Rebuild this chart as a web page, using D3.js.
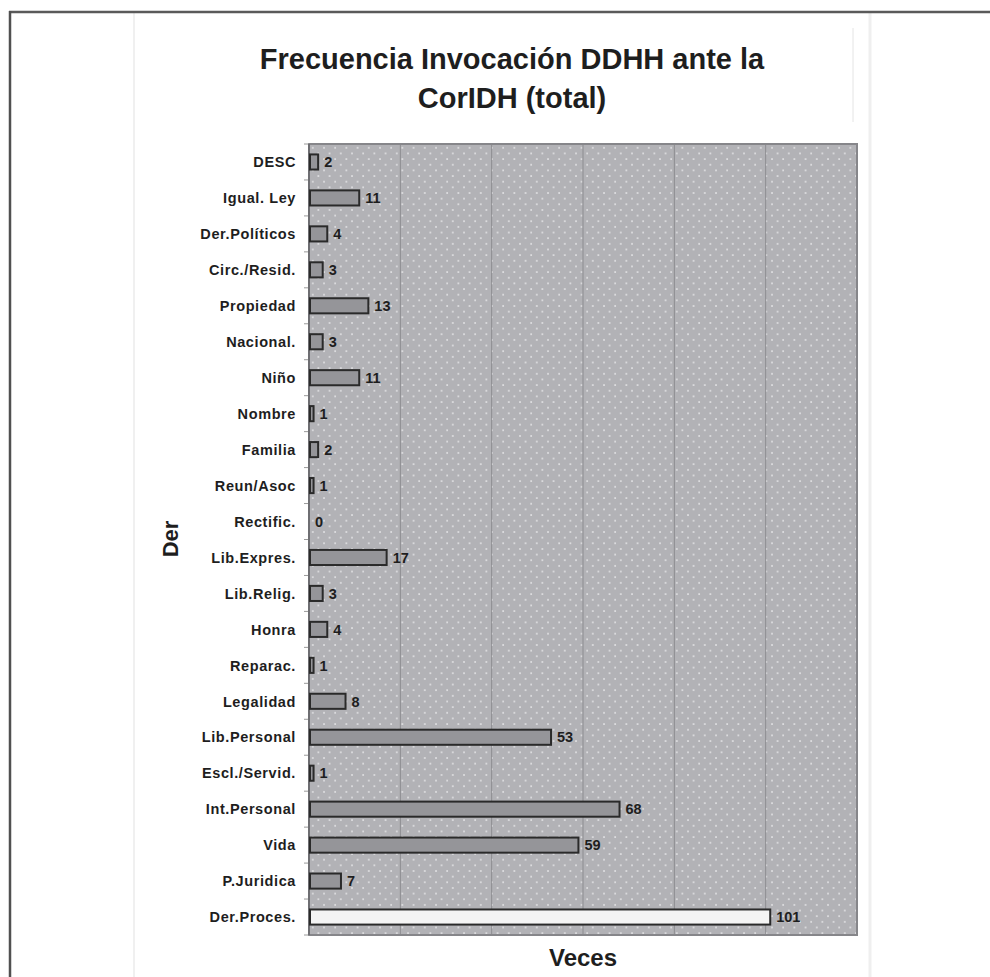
<!DOCTYPE html>
<html><head><meta charset="utf-8">
<script src="https://cdn.jsdelivr.net/npm/d3@7"></script>
<style>
html,body{margin:0;padding:0;background:#fff;}
svg{display:block;}
text{font-family:"Liberation Sans",Arial,Helvetica,sans-serif;font-weight:bold;}
</style></head>
<body>
<svg id="chart" width="990" height="977"></svg>
<script>
const titleLines = ["Frecuencia Invocación DDHH ante la", "CorIDH (total)"];
const categories = ["DESC","Igual. Ley","Der.Políticos","Circ./Resid.","Propiedad","Nacional.","Niño","Nombre","Familia","Reun/Asoc","Rectific.","Lib.Expres.","Lib.Relig.","Honra","Reparac.","Legalidad","Lib.Personal","Escl./Servid.","Int.Personal","Vida","P.Juridica","Der.Proces."];
const values = [2,11,4,3,13,3,11,1,2,1,0,17,3,4,1,8,53,1,68,59,7,101];
const highlighted = ["Der.Proces."];
const xTicks = [0,20,40,60,80,100,120];
const xTitle = "Veces";
const yTitle = "Der";

const svg = d3.select("#chart");
const plot = {left:309, right:857, top:144, bottom:935};

// page frame
svg.append("line").attr("x1",134).attr("x2",134).attr("y1",13).attr("y2",977).attr("stroke","#f0f0f0").attr("stroke-width",2);
svg.append("line").attr("x1",870).attr("x2",870).attr("y1",13).attr("y2",977).attr("stroke","#efefef").attr("stroke-width",3);
svg.append("line").attr("x1",853).attr("x2",853).attr("y1",28).attr("y2",122).attr("stroke","#e4e4e4").attr("stroke-width",1);
svg.append("line").attr("x1",9).attr("x2",990).attr("y1",12).attr("y2",12).attr("stroke","#5a5a5a").attr("stroke-width",2.5);
svg.append("line").attr("x1",10).attr("x2",10).attr("y1",11).attr("y2",977).attr("stroke","#505050").attr("stroke-width",2.5);

// title
svg.append("g").selectAll("text").data(titleLines).join("text")
  .attr("x",512).attr("y",(d,i)=>69+i*39)
  .attr("text-anchor","middle").attr("font-size",29).attr("fill","#1e1e1e")
  .text(d=>d);

const x = d3.scaleLinear().domain([0,120]).range([plot.left,plot.right]);
const y = d3.scaleBand().domain(categories).range([plot.top,plot.bottom]).paddingInner(0.58).paddingOuter(0.29);

// pattern
const defs = svg.append("defs");
const pat = defs.append("pattern").attr("id","dots").attr("patternUnits","userSpaceOnUse")
  .attr("x",plot.left).attr("y",plot.top).attr("width",11.2).attr("height",11.3);
pat.append("rect").attr("x",3).attr("y",3).attr("width",1.6).attr("height",1.6).attr("fill","#e6e6e8");
pat.append("rect").attr("x",8.6).attr("y",8.65).attr("width",1.6).attr("height",1.6).attr("fill","#e6e6e8");

svg.append("rect").attr("x",plot.left).attr("y",plot.top).attr("width",plot.right-plot.left).attr("height",plot.bottom-plot.top).attr("fill","#b2b2b6");
svg.append("rect").attr("x",plot.left).attr("y",plot.top).attr("width",plot.right-plot.left).attr("height",plot.bottom-plot.top).attr("fill","url(#dots)");

// gridlines
svg.append("g").selectAll("line").data(xTicks.filter(t=>t>0 && t<120)).join("line")
  .attr("x1",d=>x(d)).attr("x2",d=>x(d)).attr("y1",plot.top).attr("y2",plot.bottom)
  .attr("stroke","#8c8c90").attr("stroke-width",1);

// border
svg.append("rect").attr("x",plot.left).attr("y",plot.top).attr("width",plot.right-plot.left).attr("height",plot.bottom-plot.top)
  .attr("fill","none").attr("stroke","#86868a").attr("stroke-width",2);

// y axis ticks at band boundaries
const step = y.step();
const boundaries = d3.range(categories.length+1).map(i=>plot.top+i*step);
svg.append("g").selectAll("line").data(boundaries).join("line")
  .attr("x1",plot.left-5).attr("x2",plot.left).attr("y1",d=>d).attr("y2",d=>d)
  .attr("stroke","#9a9a9a").attr("stroke-width",1);
svg.append("line").attr("x1",plot.left).attr("x2",plot.left).attr("y1",plot.top).attr("y2",plot.bottom).attr("stroke","#6e6e72").attr("stroke-width",2);

// category labels
svg.append("g").selectAll("text").data(categories).join("text")
  .attr("x",296).attr("y",d=>y(d)+y.bandwidth()/2).attr("dy","0.36em")
  .attr("text-anchor","end").attr("font-size",14.5).attr("letter-spacing",0.6).attr("fill","#1e1e1e")
  .text(d=>d);

// bars
const data = categories.map((c,i)=>({c, v:values[i]}));
svg.append("g").selectAll("rect").data(data.filter(d=>d.v>0)).join("rect")
  .attr("x",x(0)+1).attr("y",d=>y(d.c)).attr("width",d=>x(d.v)-x(0)-1).attr("height",y.bandwidth())
  .attr("fill",d=>highlighted.includes(d.c)?"#f4f4f4":"#959599")
  .attr("stroke","#2a2a2a").attr("stroke-width",2);

// value labels
svg.append("g").selectAll("text").data(data).join("text")
  .attr("x",d=>x(d.v)+6).attr("y",d=>y(d.c)+y.bandwidth()/2).attr("dy","0.36em")
  .attr("font-size",14.5).attr("fill","#1e1e1e")
  .text(d=>d.v);

// axis titles
svg.append("text").attr("x",583).attr("y",966).attr("text-anchor","middle").attr("font-size",24).attr("fill","#1e1e1e").text(xTitle);
svg.append("text").attr("transform","translate(178,539) rotate(-90)").attr("text-anchor","middle").attr("font-size",22).attr("fill","#1e1e1e").text(yTitle);
</script>
</body></html>
